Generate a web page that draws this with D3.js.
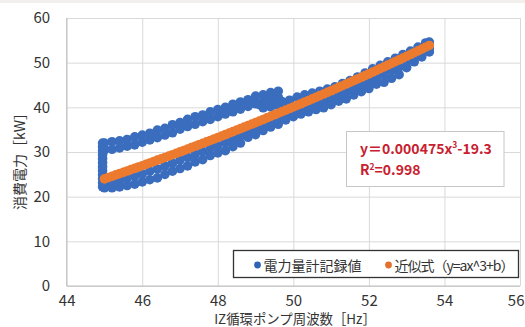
<!DOCTYPE html>
<html>
<head>
<meta charset="utf-8">
<script src="https://cdn.jsdelivr.net/npm/d3@7"></script>
<style>
  html, body { margin: 0; padding: 0; background: #ffffff; }
  svg { display: block; }
  text { font-family: "Noto Sans CJK JP", "Noto Sans", sans-serif; }
</style>
</head>
<body>
<svg id="chart" width="525" height="327"></svg>
<script>
// Axis ticks
const xTicks = [44, 46, 48, 50, 52, 54, 56];
const yTicks = [0, 10, 20, 30, 40, 50, 60];

// Power meter readings while the pump frequency ramps up (lower band): frequency [Hz]
const rampUpHz = [45.0, 45.2, 45.4, 45.6, 45.8, 46.0, 46.2, 46.4, 46.6, 46.8,
  47.0, 47.2, 47.4, 47.6, 47.8, 48.0, 48.2, 48.4, 48.6, 48.8,
  49.0, 49.2, 49.4, 49.6, 49.8, 50.0, 50.2, 50.4, 50.6, 50.8,
  51.0, 51.2, 51.4, 51.6, 51.8, 52.0, 52.2, 52.4, 52.6, 52.8,
  53.0, 53.2, 53.4, 53.6];
// lower edge of the band [kW]
const rampUpLowKW = [22.0, 22.0, 22.2, 22.5, 22.8, 23.3, 23.8, 24.2, 25.0, 25.7,
  26.3, 26.9, 27.8, 28.3, 29.2, 29.8, 30.3, 31.2, 32.0, 33.3,
  33.9, 34.8, 35.6, 36.2, 37.2, 37.9, 38.5, 39.0, 39.5, 39.9,
  40.6, 41.4, 41.9, 42.8, 43.5, 44.2, 45.2, 45.6, 46.5, 47.3,
  48.9, 50.2, 51.3, 52.4];
// middle of the band [kW]
const rampUpMidKW = [23.0, 23.3, 23.7, 24.1, 24.6, 25.1, 25.7, 26.2, 26.9, 27.5,
  28.2, 28.8, 29.5, 30.1, 30.9, 31.5, 32.1, 32.9, 33.6, 34.6,
  35.2, 36.0, 36.8, 37.4, 38.3, 39.0, 39.7, 40.3, 40.9, 41.4,
  42.2, 42.9, 43.6, 44.4, 45.1, 45.8, 46.7, 47.3, 48.2, 49.0,
  50.2, 51.2, 52.2, 53.1];

// Readings while the frequency ramps down (upper band)
const rampDownHz = [45.0, 45.2, 45.4, 45.6, 45.8, 46.0, 46.2, 46.4, 46.6, 46.8,
  47.0, 47.2, 47.4, 47.6, 47.8, 48.0, 48.2, 48.4, 48.6, 48.8,
  49.0, 49.2, 49.4, 49.6];
const rampDownHighKW = [32.0, 32.3, 32.5, 32.8, 33.4, 33.8, 34.2, 34.9, 35.3, 36.1,
  36.6, 37.3, 37.9, 38.3, 39.0, 39.5, 40.0, 40.7, 41.2, 41.7,
  42.5, 42.8, 43.3, 43.6];
const rampDownLowKW = [30.5, 30.6, 30.9, 31.3, 31.6, 32.2, 32.7, 33.2, 33.8, 34.3,
  35.1, 35.7, 36.2, 36.8, 37.3, 37.9, 38.5, 39.0, 39.6, 40.2,
  40.8, 41.3, 41.8, 42.3];

// Readings held at the minimum frequency
const minFreqHz = 44.95;
const minFreqKW = [22.2, 23.1, 24.0, 24.9, 25.8, 26.7, 27.6, 28.5, 29.4, 30.3, 31.2, 32.0];

// Transition back onto the upper side of the main band
const upperSideHz = [49.1, 49.2, 49.3, 49.4, 49.5, 49.6, 49.7, 49.8, 49.9, 50.1,
  50.3, 50.5, 50.7, 50.9, 51.1, 51.3, 51.5, 51.7, 51.9, 52.1,
  52.3, 52.5, 52.7, 52.9, 53.1, 53.3, 53.5, 53.6];
const upperSideKW = [40.6, 39.9, 40.9, 40.1, 41.2, 40.4, 41.3, 40.8, 41.6, 42.3,
  42.8, 43.2, 43.6, 44.1, 44.6, 45.3, 46.0, 46.8, 47.7, 48.6,
  49.4, 50.2, 51.0, 51.8, 52.6, 53.5, 54.4, 54.6];

// Fitted curve y = 0.000475x^3 - 19.3, tabulated every 0.1 Hz
const fitHz = [45.0, 45.1, 45.2, 45.3, 45.4, 45.5, 45.6, 45.7, 45.8, 45.9,
  46.0, 46.1, 46.2, 46.3, 46.4, 46.5, 46.6, 46.7, 46.8, 46.9,
  47.0, 47.1, 47.2, 47.3, 47.4, 47.5, 47.6, 47.7, 47.8, 47.9,
  48.0, 48.1, 48.2, 48.3, 48.4, 48.5, 48.6, 48.7, 48.8, 48.9,
  49.0, 49.1, 49.2, 49.3, 49.4, 49.5, 49.6, 49.7, 49.8, 49.9,
  50.0, 50.1, 50.2, 50.3, 50.4, 50.5, 50.6, 50.7, 50.8, 50.9,
  51.0, 51.1, 51.2, 51.3, 51.4, 51.5, 51.6, 51.7, 51.8, 51.9,
  52.0, 52.1, 52.2, 52.3, 52.4, 52.5, 52.6, 52.7, 52.8, 52.9,
  53.0, 53.1, 53.2, 53.3, 53.4, 53.5, 53.6];
const fitKW = [23.98, 24.28, 24.57, 24.87, 25.16, 25.44, 25.75, 26.05, 26.34, 26.64,
  26.93, 27.24, 27.55, 27.86, 28.17, 28.47, 28.78, 29.09, 29.40, 29.71,
  30.02, 30.34, 30.66, 30.98, 31.30, 31.62, 31.95, 32.27, 32.59, 32.91,
  33.23, 33.57, 33.90, 34.24, 34.57, 34.91, 35.24, 35.58, 35.91, 36.25,
  36.58, 36.93, 37.28, 37.63, 37.98, 38.33, 38.68, 39.03, 39.38, 39.73,
  40.08, 40.44, 40.80, 41.17, 41.53, 41.89, 42.26, 42.62, 42.98, 43.35,
  43.71, 44.09, 44.47, 44.84, 45.22, 45.60, 45.98, 46.36, 46.73, 47.11,
  47.49, 47.88, 48.27, 48.67, 49.06, 49.45, 49.85, 50.24, 50.63, 51.02,
  51.42, 51.82, 52.23, 52.64, 53.05, 53.46, 53.86];

const legendLabels = ["電力量計記録値", "近似式（y=ax^3+b）"];
// equation lines as [base, superscript, rest]
const equationParts = [["y＝0.000475x", "3", "-19.3"], ["R", "2", "=0.998"]];

const blue = "#3a6dbe";
const orange = "#ec7a2f";

const svg = d3.select("#chart");

// faint strip along the top edge
svg.append("rect").attr("x", 0).attr("y", 0).attr("width", 525).attr("height", 3).attr("fill", "#f1f0ec");

const x = d3.scaleLinear().domain([44, 56]).range([66.7, 520]);
const y = d3.scaleLinear().domain([0, 60]).range([286, 18]);
const plotW = x.range()[1] - x.range()[0];
const plotH = y.range()[0] - y.range()[1];

// grid lines
svg.append("g")
  .attr("transform", `translate(0,${y(0)})`)
  .call(d3.axisBottom(x).tickValues(xTicks).tickSize(-plotH).tickFormat(""))
  .call(g => g.select(".domain").remove())
  .call(g => g.selectAll("line").attr("stroke", "#d9d9d9").attr("stroke-width", 1));
svg.append("g")
  .attr("transform", `translate(${x(44)},0)`)
  .call(d3.axisLeft(y).tickValues(yTicks).tickSize(-plotW).tickFormat(""))
  .call(g => g.select(".domain").remove())
  .call(g => g.selectAll("line").attr("stroke", "#d9d9d9").attr("stroke-width", 1));

// left and bottom axis lines
svg.append("line").attr("x1", x(44)).attr("x2", x(44)).attr("y1", y(60)).attr("y2", y(0))
  .attr("stroke", "#bfbfbf");
svg.append("line").attr("x1", x(44)).attr("x2", x(56)).attr("y1", y(0)).attr("y2", y(0))
  .attr("stroke", "#bfbfbf");

// tick labels
svg.append("g")
  .attr("transform", `translate(0,${y(0)})`)
  .call(d3.axisBottom(x).tickValues(xTicks).tickSize(0).tickPadding(9))
  .call(g => g.select(".domain").remove())
  .call(g => g.selectAll("text").attr("font-size", 15).attr("fill", "#333")
    .style("font-family", '"Noto Sans CJK JP", sans-serif'))
  // the last label sits against the right edge of the page
  .call(g => g.selectAll(".tick").filter(d => d === 56).select("text")
    .attr("text-anchor", "end").attr("x", 524 - x(56)));
svg.append("g")
  .attr("transform", `translate(${x(44)},0)`)
  .call(d3.axisLeft(y).tickValues(yTicks).tickSize(0).tickPadding(16.5))
  .call(g => g.select(".domain").remove())
  .call(g => g.selectAll("text").attr("font-size", 15).attr("fill", "#333")
    .style("font-family", '"Noto Sans CJK JP", sans-serif'));

// axis titles
svg.append("text")
  .attr("transform", `translate(18.5,158) rotate(-90)`)
  .attr("text-anchor", "middle").attr("dominant-baseline", "central")
  .attr("font-size", 14).attr("fill", "#333")
  .text("消費電力［kW］");
svg.append("text")
  .attr("x", 295).attr("y", 318)
  .attr("text-anchor", "middle").attr("dominant-baseline", "central")
  .attr("font-size", 13.4).attr("fill", "#333")
  .text("IZ循環ポンプ周波数［Hz］");

// recorded power readings
const recorded = [];
rampUpHz.forEach((f, i) => { recorded.push([f, rampUpLowKW[i]]); recorded.push([f, rampUpMidKW[i]]); });
rampDownHz.forEach((f, i) => { recorded.push([f, rampDownLowKW[i]]); recorded.push([f, rampDownHighKW[i]]); });
minFreqKW.forEach(v => recorded.push([minFreqHz, v]));
upperSideHz.forEach((f, i) => recorded.push([f, upperSideKW[i]]));

svg.append("g").selectAll("circle").data(recorded).join("circle")
  .attr("cx", d => x(d[0])).attr("cy", d => y(d[1])).attr("r", 4.8)
  .attr("fill", blue);

// fitted curve
svg.append("g").selectAll("circle").data(fitHz.map((f, i) => [f, fitKW[i]])).join("circle")
  .attr("cx", d => x(d[0])).attr("cy", d => y(d[1])).attr("r", 4.8)
  .attr("fill", orange);

// equation box
const eq = svg.append("g");
eq.append("rect").attr("x", 346.5).attr("y", 131.5).attr("width", 157.5).attr("height", 55)
  .attr("fill", "#fff").attr("stroke", "#c6c6c6").attr("stroke-width", 1);
equationParts.forEach((p, i) => {
  const t = eq.append("text")
    .attr("x", 360).attr("y", 153.5 + i * 21.5)
    .attr("font-size", 14).attr("font-weight", "bold").attr("fill", "#c8202f");
  t.append("tspan").text(p[0]);
  t.append("tspan").attr("font-size", 8.5).attr("dy", -5.5).text(p[1]);
  t.append("tspan").attr("dy", 5.5).text(p[2]);
});

// legend
const lg = svg.append("g");
lg.append("rect").attr("x", 233.5).attr("y", 250.5).attr("width", 285).attr("height", 27)
  .attr("fill", "#fff").attr("stroke", "#333").attr("stroke-width", 1.3);
const legendX = [257.5, 388.5];
const legendColors = ["#2f63b3", "#e2712c"];
legendLabels.forEach((t, i) => {
  lg.append("circle").attr("cx", legendX[i]).attr("cy", 265).attr("r", 3.4).attr("fill", legendColors[i]);
  lg.append("text").attr("x", legendX[i] + 6).attr("y", 265)
    .attr("dominant-baseline", "central").attr("font-size", 14).attr("fill", "#333")
    .attr("textLength", i === 1 ? 120 : null)
    .text(t);
});
</script>
</body>
</html>
